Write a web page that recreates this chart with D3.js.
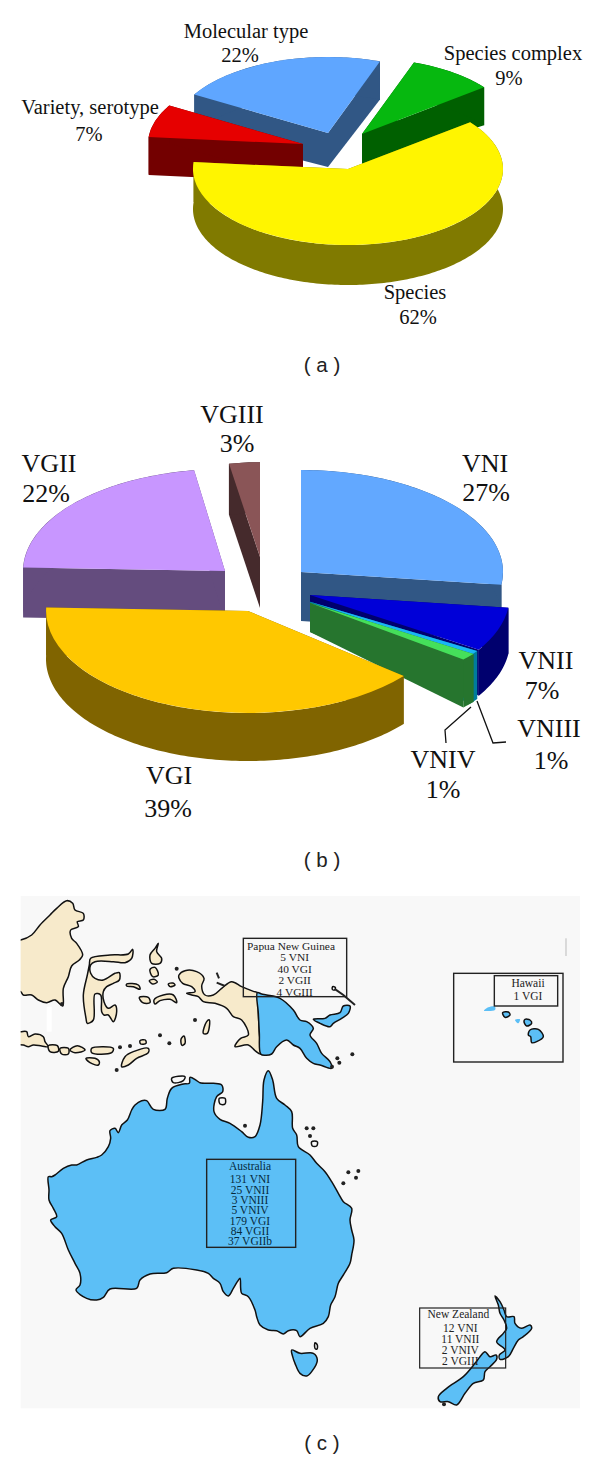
<!DOCTYPE html>
<html>
<head>
<meta charset="utf-8">
<script src="https://cdn.jsdelivr.net/npm/d3@7"></script>
<style>
  html, body { margin: 0; padding: 0; background: #fff; }
  svg { display: block; }
</style>
</head>
<body>
<div id="chart"></div>
<script>
// Panel (a): level of identification
const idCategories = ["Species", "Variety, serotype", "Molecular type", "Species complex"];
const idValues = [62, 7, 22, 9];
const idTop = ["#FFF500", "#E60000", "#5FA6FF", "#06B80F"];
const idSide = ["#807A00", "#730000", "#315785", "#006000"];

// Panel (b): molecular types
const typeCategories = ["VNI", "VNII", "VNIII", "VNIV", "VGI", "VGII", "VGIII"];
const typeValues = [27, 7, 1, 1, 39, 22, 3];
const typeTop = ["#62A8FF", "#0000D8", "#19B5F5", "#45E05A", "#FFC800", "#C896FF", "#8A5557"];
const typeSide = ["#315785", "#00006E", "#007C9C", "#26752E", "#806400", "#644C7E", "#452A2C"];

// Panel (c): isolates per region
const papuaLines = ["Papua New Guinea", "5 VNI", "40 VGI", "2 VGII", "4 VGIII"];
const hawaiiLines = ["Hawaii", "1 VGI"];
const australiaLines = ["Australia", "131 VNI", "25 VNII", "3 VNIII", "5 VNIV", "179 VGI", "84 VGII", "37 VGIIb"];
const zealandLines = ["New Zealand", "12 VNI", "11 VNII", "2 VNIV", "2 VGIII"];

// Coastlines, in 3x units (panel origin at page y 880)
const creamCoasts = [
  [[40,180],[62,180],[95,165],[120,135],[150,105],[170,85],[200,62],[218,70],[225,90],[250,100],[250,120],[232,125],[235,140],[212,150],[215,175],[230,190],[248,225],[238,240],[215,258],[205,290],[190,325],[188,378],[165,360],[140,368],[115,360],[95,345],[70,345],[62,335],[40,335],[30,260]],
  [[272,235],[330,225],[385,222],[398,208],[395,235],[375,248],[340,245],[285,245],[272,255],[272,280],[285,295],[310,300],[345,280],[358,278],[358,300],[340,310],[320,320],[310,335],[312,365],[325,385],[345,375],[350,395],[340,425],[325,405],[312,405],[305,395],[302,345],[285,342],[280,420],[262,430],[258,415],[250,345],[262,285],[268,255]],
  [[450,225],[465,205],[475,190],[470,215],[485,235],[480,250],[455,250]],
  [[450,268],[465,262],[475,285],[458,290]],
  [[448,302],[462,298],[472,306],[458,312]],
  [[505,312],[518,309],[525,315],[510,320]],
  [[380,312],[415,315],[420,328],[400,320],[380,318]],
  [[418,352],[445,352],[450,368],[428,368]],
  [[462,360],[490,345],[520,345],[530,368],[510,358],[480,362],[465,372]],
  [[537,285],[555,272],[590,275],[612,295],[605,318],[615,345],[640,345],[665,325],[695,305],[725,320],[760,334],[772,338],[775,400],[778,460],[782,522],[765,512],[745,495],[705,500],[722,475],[745,465],[725,420],[700,410],[680,385],[645,370],[610,365],[595,350],[575,345],[560,340],[585,335],[575,320],[548,310],[537,295]],
  [[40,455],[62,455],[80,455],[85,470],[105,462],[130,470],[135,485],[145,500],[125,498],[100,495],[85,500],[70,495],[40,490]],
  [[145,497],[172,497],[175,514],[150,515]],
  [[180,505],[205,505],[205,522],[185,522]],
  [[210,510],[232,497],[255,510],[225,518]],
  [[275,505],[310,500],[340,505],[335,518],[275,518]],
  [[365,560],[375,530],[400,515],[445,505],[445,518],[410,535],[385,555]],
  [[258,535],[285,535],[298,545],[295,555],[270,548]],
  [[420,482],[436,480],[438,490],[422,492]],
  [[543,478],[552,468],[555,490],[546,496]],
  [[610,460],[620,425],[628,420],[622,460]]
];
const blueCoasts = [
  // Papua New Guinea and New Britain
  [[772,338],[785,342],[800,345],[840,355],[880,390],[900,420],[920,425],[940,445],[930,465],[950,490],[965,520],[990,545],[995,565],[960,555],[940,550],[920,535],[900,505],[880,495],[860,480],[830,500],[815,522],[795,526],[782,522],[778,460],[775,400]],
  [[940,418],[975,415],[990,405],[1020,398],[1030,378],[1050,378],[1045,400],[1025,415],[1000,430],[990,440],[960,430]],
  // Australia
  [[145,890],[155,890],[165,885],[190,865],[215,855],[230,855],[260,840],[290,832],[305,825],[325,800],[332,775],[330,752],[345,745],[355,758],[365,735],[382,720],[395,690],[405,675],[425,662],[440,662],[460,688],[495,688],[502,655],[515,625],[550,612],[568,610],[570,592],[590,602],[600,608],[640,610],[665,615],[668,635],[650,650],[642,695],[660,718],[690,730],[725,755],[745,772],[765,770],[780,735],[788,665],[792,600],[805,572],[818,600],[830,655],[855,675],[875,695],[878,745],[890,765],[895,800],[930,825],[950,850],[975,875],[995,905],[1015,940],[1030,965],[1055,985],[1050,1020],[1055,1050],[1062,1080],[1055,1125],[1050,1150],[1030,1185],[1015,1210],[1005,1250],[992,1275],[985,1310],[970,1330],[930,1345],[900,1370],[890,1352],[865,1352],[850,1362],[830,1352],[805,1350],[780,1335],[770,1310],[765,1290],[745,1250],[725,1240],[722,1225],[720,1195],[712,1205],[700,1225],[685,1248],[670,1235],[660,1210],[640,1195],[625,1180],[590,1170],[520,1165],[500,1178],[450,1182],[420,1200],[410,1225],[330,1227],[310,1252],[290,1260],[260,1255],[228,1230],[240,1215],[240,1180],[225,1150],[205,1110],[185,1060],[165,1040],[152,1020],[170,1010],[160,985],[147,960],[147,930]],
  // Tasmania
  [[875,1410],[900,1420],[940,1420],[952,1440],[935,1475],[920,1488],[900,1480],[885,1450],[878,1430]],
  // New Zealand
  [[1485,1248],[1500,1265],[1512,1290],[1520,1310],[1542,1310],[1545,1330],[1565,1345],[1590,1335],[1595,1345],[1570,1370],[1555,1380],[1540,1405],[1525,1430],[1500,1438],[1498,1425],[1515,1410],[1490,1385],[1510,1360],[1520,1345],[1512,1320],[1500,1300],[1495,1275]],
  [[1455,1415],[1470,1430],[1488,1425],[1490,1438],[1470,1460],[1455,1475],[1450,1500],[1420,1510],[1395,1540],[1370,1575],[1345,1565],[1320,1565],[1315,1550],[1340,1525],[1390,1490],[1425,1450],[1440,1430]],
  // Hawaii outlined islands
  [[1508,398],[1525,396],[1530,405],[1515,412]],
  [[1575,418],[1590,420],[1595,430],[1580,438],[1572,425]],
  [[1590,450],[1615,448],[1630,470],[1610,485],[1595,488],[1592,470],[1585,465]]
];
// Hawaii islands drawn without an outline
const plainIslands = [
  [[1452,392],[1465,382],[1485,380],[1485,390],[1465,393]],
  [[1545,420],[1560,418],[1555,430]]
];
// Tiny outlined islands that keep the background colour
const hollowIslands = [
  [[658,655],[675,655],[675,672],[660,672]],
  [[515,595],[555,590],[550,602],[520,608]],
  [[935,785],[952,785],[950,798],[937,798]],
  [[998,320],[1006,322],[1004,330],[997,328]],
  [[945,1388],[952,1395],[951,1407],[945,1405]]
];
// Specks of ink: small islands and scanning marks
const inkDots = [[530,266],[480,466],[508,490],[585,420],[350,570],[360,502],[390,498],[1012,535],[1018,548],[996,560],[1057,523],[920,745],[940,745],[930,768],[735,737],[1045,877],[1075,873],[1068,893],[1030,910],[1332,1573],[186,372]];
const inkLines = [
  [[1006,328],[1030,345],[1065,375]],
  [[650,278],[657,295]],
  [[650,308],[675,318]]
];

const pageWidth = 600;
const pageHeight = 1459;
const serif = "'Liberation Serif', serif";
const sans = "'Liberation Sans', sans-serif";

const svg = d3.select("#chart")
  .append("svg")
  .attr("width", pageWidth)
  .attr("height", pageHeight);

function addLabel(x, y, text, size, family, fill) {
  return svg.append("text")
    .attr("x", x)
    .attr("y", y)
    .attr("dy", "0.33em")
    .attr("text-anchor", "middle")
    .style("font-family", family || serif)
    .style("font-size", size + "px")
    .style("fill", fill || "#111")
    .text(text);
}

// Tilted, extruded pie. Every slice keeps the same ellipse, shifted by its own explode offset.
function drawPie(opts) {
  const pie = d3.pie().sort(null)
    .startAngle(opts.start)
    .endAngle(opts.start + 2 * Math.PI);
  const slices = pie(opts.values);
  const line = d3.line();
  const faceArc = d3.arc().innerRadius(0).outerRadius(1);
  const rad = Math.PI / 180;

  opts.order.forEach(i => {
    const shape = opts.shape[i];
    // the source drawing is not quite true to the rounded percentages, a0/a1 nudge the edges
    const s = {
      startAngle: slices[i].startAngle + (shape.a0 || 0) * rad,
      endAngle: slices[i].endAngle + (shape.a1 || 0) * rad
    };
    const sx = shape.sx || 1;
    const sy = shape.sy || 1;
    const x = d3.scaleLinear().domain([-1, 1])
      .range([opts.cx + shape.dx - opts.rx * sx, opts.cx + shape.dx + opts.rx * sx]);
    const y = d3.scaleLinear().domain([-1, 1])
      .range([opts.cy + shape.dy - opts.ry * sy, opts.cy + shape.dy + opts.ry * sy]);
    const rimX = a => x(Math.sin(a));
    const rimY = a => y(-Math.cos(a));

    const g = svg.append("g");
    const depth = shape.depth;
    const apexDepth = shape.apexDepth === undefined ? depth : shape.apexDepth;

    // radial walls
    [s.startAngle, s.endAngle].forEach(a => {
      g.append("path")
        .attr("d", line([
          [x(0), y(0)],
          [rimX(a), rimY(a)],
          [rimX(a), rimY(a) + depth],
          [x(0), y(0) + apexDepth]
        ]) + "Z")
        .attr("fill", opts.side[i]);
    });

    // outer wall
    const steps = d3.range(s.startAngle, s.endAngle, 0.02).concat([s.endAngle]);
    const wall = steps.map(a => [rimX(a), rimY(a)])
      .concat(steps.slice().reverse().map(a => [rimX(a), rimY(a) + depth]));
    g.append("path").attr("d", line(wall) + "Z").attr("fill", opts.side[i]);

    // top face
    g.append("path")
      .attr("d", faceArc(s))
      .attr("transform", `translate(${x(0)},${y(0)}) scale(${opts.rx * sx},${opts.ry * sy})`)
      .attr("fill", opts.top[i]);
  });
}

drawPie({
  values: idValues,
  start: 52 * Math.PI / 180,
  cx: 348, cy: 169, rx: 155, ry: 76,
  order: [2, 3, 1, 0],
  top: idTop,
  side: idSide,
  shape: [
    { dx: 0, dy: 0, depth: 40 },
    { dx: -45, dy: -25, depth: 38 },
    { dx: -20, dy: -36, depth: 38, apexDepth: 34 },
    { dx: 14, dy: -35, depth: 38, apexDepth: 30 }
  ]
});

drawPie({
  values: typeValues,
  start: 0,
  cx: 248, cy: 611, rx: 202, ry: 102,
  order: [6, 5, 0, 1, 2, 3, 4],
  top: typeTop,
  side: typeSide,
  shape: [
    { dx: 53, dy: -39, depth: 49 },
    { dx: 62, dy: -16, sx: 0.99, depth: 46, apexDepth: 10 },
    { dx: 62, dy: -9.3, sx: 0.98, sy: 0.9, depth: 48, apexDepth: 29 },
    { dx: 62, dy: -8, sy: 0.85, depth: 48, apexDepth: 29, a1: 1 },
    { dx: 0, dy: 0, depth: 48, a1: 2 },
    { dx: -23, dy: -40, depth: 50, a0: 2, a1: 2 },
    { dx: 12, dy: -54, sx: 0.82, sy: 0.93, depth: 51 }
  ]
});

// Leader lines for the two thin slices
const leader = d3.line();
[[[471, 707], [445, 730], [446, 743]], [[477, 701], [493, 743], [506, 742]]].forEach(pts => {
  svg.append("path")
    .attr("d", leader(pts))
    .attr("fill", "none")
    .attr("stroke", "#111")
    .attr("stroke-width", 1.3);
});

// Labels of (a)
const idLabelSize = 20.5;
addLabel(246, 31, idCategories[2], idLabelSize);
addLabel(240, 55, idValues[2] + "%", idLabelSize);
addLabel(513, 53, idCategories[3], idLabelSize);
addLabel(509, 78, idValues[3] + "%", idLabelSize);
addLabel(90, 107, idCategories[1], idLabelSize);
addLabel(89, 134, idValues[1] + "%", idLabelSize);
addLabel(415, 292, idCategories[0], idLabelSize);
addLabel(418, 317, idValues[0] + "%", idLabelSize);

// Labels of (b)
const typeLabelSize = 26;
addLabel(485, 463, typeCategories[0], typeLabelSize);
addLabel(486, 492, typeValues[0] + "%", typeLabelSize);
addLabel(546, 660, typeCategories[1], typeLabelSize);
addLabel(542, 690, typeValues[1] + "%", typeLabelSize);
addLabel(549, 728, typeCategories[2], typeLabelSize);
addLabel(551, 760, typeValues[2] + "%", typeLabelSize);
addLabel(443, 759, typeCategories[3], typeLabelSize);
addLabel(443, 789, typeValues[3] + "%", typeLabelSize);
addLabel(169, 775, typeCategories[4], typeLabelSize);
addLabel(168, 808, typeValues[4] + "%", typeLabelSize);
addLabel(49, 463, typeCategories[5], typeLabelSize);
addLabel(46, 493, typeValues[5] + "%", typeLabelSize);
addLabel(232, 414, typeCategories[6], typeLabelSize);
addLabel(237, 443, typeValues[6] + "%", typeLabelSize);

// Panel (c): the map
const mapX = d3.scaleLinear().domain([0, 1800]).range([0, 600]);
const mapY = d3.scaleLinear().domain([0, 1737]).range([880, 1459]);
const coast = d3.line()
  .x(d => mapX(d[0]))
  .y(d => mapY(d[1]))
  .curve(d3.curveCatmullRomClosed.alpha(0.5));
const openCoast = d3.line().x(d => mapX(d[0])).y(d => mapY(d[1]));

svg.append("rect")
  .attr("x", mapX(62)).attr("y", mapY(48))
  .attr("width", mapX(1740) - mapX(62)).attr("height", mapY(1585) - mapY(48))
  .attr("fill", "#F8F8F8");

// land stops at the panel edge
svg.append("clipPath")
  .attr("id", "mapClip")
  .append("rect")
  .attr("x", mapX(62)).attr("y", mapY(48))
  .attr("width", mapX(1740) - mapX(62)).attr("height", mapY(1585) - mapY(48));

const land = svg.append("g")
  .attr("clip-path", "url(#mapClip)")
  .attr("stroke", "#111")
  .attr("stroke-width", 1.5)
  .attr("stroke-linejoin", "round");

land.selectAll("path.cream")
  .data(creamCoasts)
  .join("path")
  .attr("class", "cream")
  .attr("d", d => coast(d))
  .attr("fill", "#F7EACB");

land.selectAll("path.blue")
  .data(blueCoasts)
  .join("path")
  .attr("class", "blue")
  .attr("d", d => coast(d))
  .attr("fill", "#5CBFF6");

land.selectAll("path.hollow")
  .data(hollowIslands)
  .join("path")
  .attr("class", "hollow")
  .attr("d", d => coast(d))
  .attr("fill", "#F8F8F8");

// white scan patch next to Borneo
svg.append("rect")
  .attr("x", mapX(140)).attr("y", mapY(380))
  .attr("width", mapX(155) - mapX(140)).attr("height", mapY(455) - mapY(380))
  .attr("fill", "#FFFFFF");

svg.selectAll("path.plain")
  .data(plainIslands)
  .join("path")
  .attr("class", "plain")
  .attr("d", d => coast(d))
  .attr("fill", "#5CBFF6");

svg.selectAll("path.inkline")
  .data(inkLines)
  .join("path")
  .attr("class", "inkline")
  .attr("d", d => openCoast(d))
  .attr("fill", "none")
  .attr("stroke", "#222")
  .attr("stroke-width", 2);

svg.selectAll("circle.ink")
  .data(inkDots)
  .join("circle")
  .attr("class", "ink")
  .attr("cx", d => mapX(d[0]))
  .attr("cy", d => mapY(d[1]))
  .attr("r", 2)
  .attr("fill", "#222");

// stray grey mark top right
svg.append("line")
  .attr("x1", mapX(1698)).attr("x2", mapX(1698))
  .attr("y1", mapY(175)).attr("y2", mapY(228))
  .attr("stroke", "#bbb")
  .attr("stroke-width", 1);

function addBox(x0, y0, x1, y1, width) {
  svg.append("rect")
    .attr("x", mapX(x0)).attr("y", mapY(y0))
    .attr("width", mapX(x1) - mapX(x0)).attr("height", mapY(y1) - mapY(y0))
    .attr("fill", "none")
    .attr("stroke", "#222")
    .attr("stroke-width", width);
}

function addMapText(lines, headerX, rowX, rowY, size, fill) {
  lines.forEach((t, i) => addLabel(mapX(i === 0 ? headerX : rowX), mapY(rowY[i]), t, size, serif, fill));
}

addBox(730, 175, 1040, 350, 1.4);
addMapText(papuaLines, 873, 884, [198, 232, 268, 302, 338], 11.4, "#222");

addBox(1361, 280, 1689, 546, 1.4);
addBox(1483, 287, 1673, 378, 1.4);
addMapText(hawaiiLines, 1584, 1584, [310, 350], 11.5, "#222");

addBox(620, 838, 887, 1102, 1.4);
addMapText(australiaLines, 750, 750, [860, 898, 930, 962, 992, 1023, 1054, 1084], 11.5, "#062A3C");

addBox(1259, 1284, 1517, 1464, 1.2);
addMapText(zealandLines, 1375, 1381, [1303, 1345, 1378, 1412, 1445], 11.5, "#222");

// Panel letters
addLabel(322, 365, "( a )", 20.5, sans, "#222");
addLabel(322, 860, "( b )", 20.5, sans, "#222");
addLabel(322, 1443, "( c )", 20.5, sans, "#222");
</script>
</body>
</html>
